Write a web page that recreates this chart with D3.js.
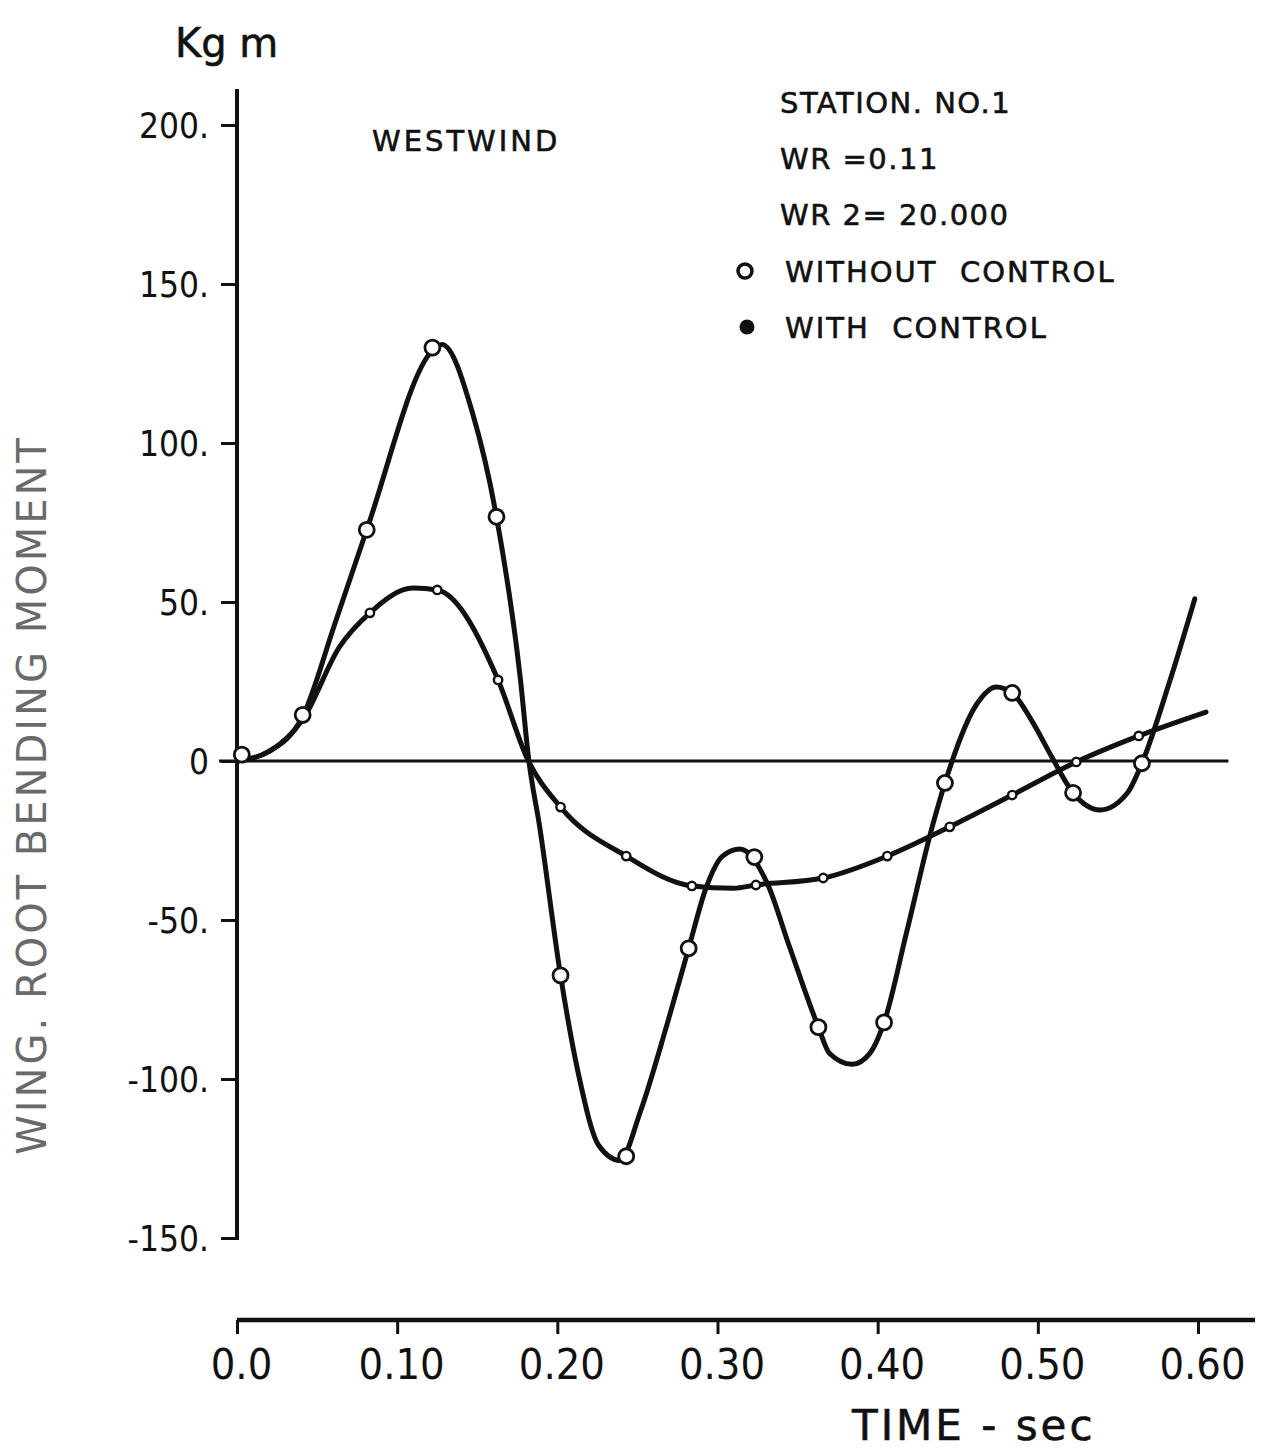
<!DOCTYPE html>
<html>
<head>
<meta charset="utf-8">
<script src="https://cdn.jsdelivr.net/npm/d3@7"></script>
<style>
  html, body { margin: 0; padding: 0; background: #fff; }
  svg { display: block; }
  text { font-family: "DejaVu Sans", "Noto Sans", sans-serif; fill: #111; }
</style>
</head>
<body>
<svg id="chart" width="1271" height="1453"></svg>
<script>
// Wing root bending moment at station no. 1, Westwind gust response.

// Sampled points, without control (open circles)
const timeWithout = [0.003, 0.041, 0.081, 0.122, 0.162, 0.202, 0.243, 0.282, 0.323, 0.363, 0.404, 0.442, 0.484, 0.522, 0.565];
const momentWithout = [2, 14.5, 72.7, 130, 76.8, -67.4, -124.3, -58.9, -30.2, -83.7, -82.2, -6.9, 21.4, -10, -0.7];

// Sampled points, with control (small dots)
const timeWith = [0.041, 0.083, 0.125, 0.163, 0.202, 0.243, 0.284, 0.324, 0.366, 0.406, 0.445, 0.484, 0.524, 0.563];
const momentWith = [13.5, 46.6, 53.8, 25.5, -14.5, -29.9, -39.3, -39, -36.8, -29.9, -20.7, -10.7, -0.3, 7.9];

// Faired curve through the response without control
const curveTimeWithout = [0, 0.02, 0.041, 0.061, 0.081, 0.122, 0.128, 0.147, 0.162, 0.177, 0.182, 0.189, 0.202, 0.213, 0.226, 0.239, 0.252, 0.268, 0.282, 0.293, 0.303, 0.314, 0.331, 0.345, 0.363, 0.37, 0.384, 0.395, 0.404, 0.418, 0.434, 0.442, 0.462, 0.474, 0.484, 0.497, 0.509, 0.522, 0.539, 0.556, 0.565, 0.582, 0.598];
const curveMomentWithout = [0, 3, 14, 43, 72.7, 129, 131, 109.5, 76.8, 25.5, 1, -20.8, -67.4, -98, -121, -125.6, -110, -83.7, -58.9, -39.7, -30, -27.7, -38.4, -58.5, -83.7, -92, -95.4, -92, -82.2, -54, -20.8, -6.9, 18, 23.3, 21.4, 12, 1, -10, -15.4, -10, -0.7, 24.5, 51];

// Faired curve through the response with control
const curveTimeWith = [0, 0.02, 0.041, 0.064, 0.083, 0.11, 0.125, 0.163, 0.181, 0.202, 0.243, 0.284, 0.31, 0.324, 0.366, 0.406, 0.445, 0.484, 0.524, 0.563, 0.605];
const curveMomentWith = [0, 3, 13, 35.9, 46.6, 54.4, 53.8, 25.5, 1, -14.5, -29.9, -39.3, -40, -39, -36.8, -29.9, -20.7, -10.7, -0.3, 7.9, 15.4];

// Axis ticks
const yTickValues = [200, 150, 100, 50, 0, -50, -100, -150];
const yTickLabels = ["200.", "150.", "100.", "50.", "0", "-50.", "-100.", "-150."];
const xTickValues = [0, 0.1, 0.2, 0.3, 0.4, 0.5, 0.6];
const xTickLabels = ["0.0", "0.10", "0.20", "0.30", "0.40", "0.50", "0.60"];

// Annotation text
const infoLines = ["STATION. NO.1", "WR =0.11", "WR 2= 20.000"];
const legendLabels = ["WITHOUT  CONTROL", "WITH  CONTROL"];

const svg = d3.select("#chart");
const ink = "#111";

const x = d3.scaleLinear().domain([0, 0.6]).range([237, 1198]);
const y = d3.scaleLinear().domain([-150, 200]).range([1238, 125]);

// Vertical axis
const yAxis = d3.axisLeft(y)
  .tickValues(yTickValues)
  .tickFormat((d, i) => yTickLabels[i])
  .tickSize(16)
  .tickPadding(12)
  .tickSizeOuter(0);
const gy = svg.append("g").attr("transform", `translate(${x(0)},0)`).call(yAxis);
gy.select(".domain").remove();
gy.selectAll(".tick line").attr("stroke", ink).attr("stroke-width", 3);
gy.selectAll(".tick text")
  .attr("font-size", 35)
  .attr("fill", ink)
  .attr("dy", "0.36em")
  .style("font-family", "'DejaVu Sans Condensed', 'DejaVu Sans', sans-serif");
svg.append("line")
  .attr("x1", x(0)).attr("x2", x(0))
  .attr("y1", y(200) - 36).attr("y2", y(-150) + 2)
  .attr("stroke", ink).attr("stroke-width", 4);

// Horizontal axis, set below the plot
const axisY = 1320;
const xAxis = d3.axisBottom(x)
  .tickValues(xTickValues)
  .tickFormat((d, i) => xTickLabels[i])
  .tickSize(14)
  .tickPadding(14)
  .tickSizeOuter(0);
const gx = svg.append("g").attr("transform", `translate(0,${axisY})`).call(xAxis);
gx.select(".domain").remove();
gx.selectAll(".tick line").attr("stroke", ink).attr("stroke-width", 3);
gx.selectAll(".tick text")
  .attr("font-size", 43)
  .attr("fill", ink)
  .attr("dx", 4)
  .style("font-family", "'DejaVu Sans Condensed', 'DejaVu Sans', sans-serif");
svg.append("line")
  .attr("x1", x(0)).attr("x2", x(0.6) + 57)
  .attr("y1", axisY).attr("y2", axisY)
  .attr("stroke", ink).attr("stroke-width", 4.5);

// Zero reference line
svg.append("line")
  .attr("x1", x(0) - 18).attr("x2", x(0.619))
  .attr("y1", y(0)).attr("y2", y(0))
  .attr("stroke", ink).attr("stroke-width", 3);

// Faired curves
const line = d3.line()
  .x(d => x(d[0]))
  .y(d => y(d[1]))
  .curve(d3.curveMonotoneX);

svg.append("path")
  .datum(d3.zip(curveTimeWith, curveMomentWith))
  .attr("d", line)
  .attr("fill", "none")
  .attr("stroke", ink)
  .attr("stroke-width", 5)
  .attr("stroke-linejoin", "round")
  .attr("stroke-linecap", "round");

svg.append("path")
  .datum(d3.zip(curveTimeWithout, curveMomentWithout))
  .attr("d", line)
  .attr("fill", "none")
  .attr("stroke", ink)
  .attr("stroke-width", 5)
  .attr("stroke-linejoin", "round")
  .attr("stroke-linecap", "round");

// Markers
svg.append("g").selectAll("circle")
  .data(d3.zip(timeWith, momentWith))
  .join("circle")
  .attr("cx", d => x(d[0]))
  .attr("cy", d => y(d[1]))
  .attr("r", 4.2)
  .attr("fill", "#fff")
  .attr("stroke", ink)
  .attr("stroke-width", 2.4);

svg.append("g").selectAll("circle")
  .data(d3.zip(timeWithout, momentWithout))
  .join("circle")
  .attr("cx", d => x(d[0]))
  .attr("cy", d => y(d[1]))
  .attr("r", 7.5)
  .attr("fill", "#fff")
  .attr("stroke", ink)
  .attr("stroke-width", 2.8);

// Units and axis titles
svg.append("text")
  .attr("x", 175).attr("y", 57)
  .attr("font-size", 40)
  .attr("stroke", ink).attr("stroke-width", 0.6)
  .text("Kg m");

svg.append("text")
  .attr("transform", "translate(46,795) rotate(-90)")
  .attr("text-anchor", "middle")
  .attr("font-size", 40)
  .attr("letter-spacing", 3)
  .style("fill", "#6a6a6a")
  .text("WING. ROOT BENDING MOMENT");

svg.append("text")
  .attr("x", 852).attr("y", 1440)
  .attr("font-size", 42)
  .attr("letter-spacing", 3)
  .attr("stroke", ink).attr("stroke-width", 0.6)
  .attr("xml:space", "preserve")
  .style("white-space", "pre")
  .text("TIME - sec");

// Annotations
svg.append("text")
  .attr("x", 372).attr("y", 151)
  .attr("font-size", 29)
  .attr("letter-spacing", 3)
  .attr("stroke", ink).attr("stroke-width", 0.6)
  .text("WESTWIND");

svg.append("g").selectAll("text")
  .data(infoLines)
  .join("text")
  .attr("x", 780)
  .attr("y", (d, i) => 113 + i * 56)
  .attr("font-size", 29)
  .attr("letter-spacing", 1.5)
  .attr("stroke", ink).attr("stroke-width", 0.6)
  .text(d => d);

// Legend
const legend = svg.append("g");
legend.selectAll("text")
  .data(legendLabels)
  .join("text")
  .attr("x", 785)
  .attr("y", (d, i) => 282 + i * 56)
  .attr("font-size", 29)
  .attr("letter-spacing", 2)
  .attr("stroke", ink).attr("stroke-width", 0.6)
  .attr("xml:space", "preserve")
  .style("white-space", "pre")
  .text(d => d);
legend.append("circle")
  .attr("cx", 745).attr("cy", 271).attr("r", 7)
  .attr("fill", "#fff").attr("stroke", ink).attr("stroke-width", 3.5);
legend.append("circle")
  .attr("cx", 747).attr("cy", 327).attr("r", 7.5)
  .attr("fill", ink);
</script>
</body>
</html>
